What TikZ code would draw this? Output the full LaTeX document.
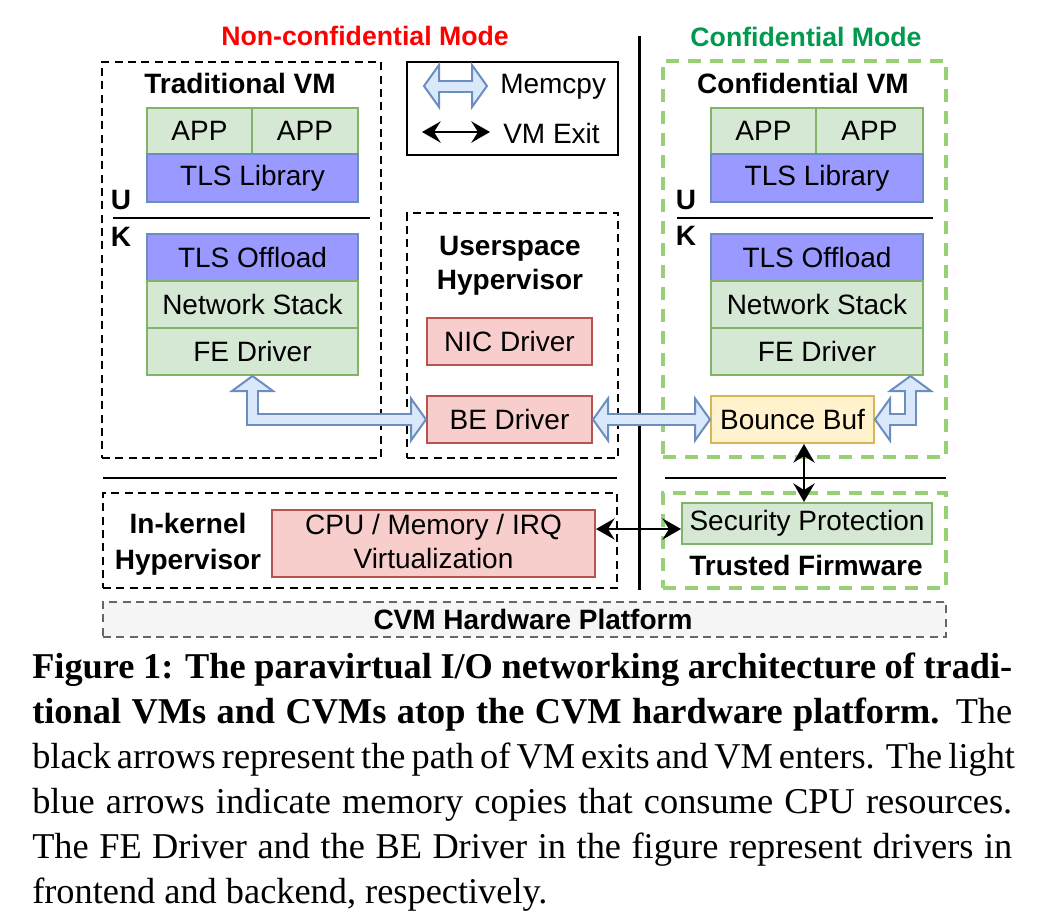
\documentclass[tikz,border=0pt]{standalone}
\usepackage{fontspec}
\setmainfont{Liberation Serif}
\setsansfont{Liberation Sans}
\usetikzlibrary{arrows.meta,calc}
\definecolor{bF}{HTML}{DAE8FC}
\definecolor{bD}{HTML}{6C8EBF}
\definecolor{gF}{HTML}{D5E8D4}
\definecolor{gD}{HTML}{82B366}
\definecolor{rF}{HTML}{F8CECC}
\definecolor{rD}{HTML}{B85450}
\definecolor{pF}{HTML}{9999FF}
\definecolor{yF}{HTML}{FFF2CC}
\definecolor{yD}{HTML}{D6B656}
\definecolor{dG}{HTML}{97D077}
\definecolor{grF}{HTML}{F5F5F5}
\definecolor{grD}{HTML}{666666}
\definecolor{modeR}{HTML}{FF0000}
\definecolor{modeG}{HTML}{00994D}
\newcommand{\pu}{*0.75pt}
\tikzset{
  lbl/.style={font=\sffamily\fontsize{21}{25.5}\selectfont, inner sep=0pt},
  blbl/.style={font=\sffamily\bfseries\fontsize{21}{25.5}\selectfont, inner sep=0pt},
  mode/.style={font=\sffamily\bfseries\fontsize{20}{24}\selectfont, inner sep=0pt},
  cell/.style={draw, line width=1.5pt, inner sep=0pt, font=\sffamily\fontsize{21}{25.5}\selectfont},
  gcell/.style={cell, fill=gF, draw=gD},
  pcell/.style={cell, fill=pF, draw=bD},
  rcell/.style={cell, fill=rF, draw=rD},
  ycell/.style={cell, fill=yF, draw=yD},
  kdash/.style={draw=black, line width=1.5pt, dash pattern=on 6pt off 4pt, inner sep=0pt},
  gdash/.style={draw=dG, line width=2.6pt, dash pattern=on 9.5pt off 7pt, inner sep=0pt},
  fout/.style={draw=bD, line width=9.75pt, line join=miter, line cap=butt},
  fin/.style={draw=bF, line width=6.75pt, line join=miter, line cap=butt, shorten <=-1.6pt, shorten >=-1.6pt},
  fhead/.style={fill=bF, draw=bD, line width=1.5pt, line join=miter},
  fhL/.pic={\path[fhead] (0,0) -- (15,-21) -- (15,21) -- cycle;},
  fhR/.pic={\path[fhead] (0,0) -- (-15,-21) -- (-15,21) -- cycle;},
  fhU/.pic={\path[fhead] (0,0) -- (-20.5,15) -- (20.5,15) -- cycle;},
  ktip/.tip={Stealth[length=14pt,width=16pt,inset=5pt]},
  karrow/.style={line width=1.5pt, ktip-ktip},
  captxt/.style={font=\rmfamily\fontsize{27.25}{33}\selectfont, inner sep=0pt, anchor=base west}
}
\begin{document}
\begin{tikzpicture}[x={(0.75pt,0)}, y={(0,-0.75pt)}]
\useasboundingbox (0,0) rectangle (1043,922);

% mode titles
\node[mode, text=modeR] (mNC) at (365,36) {Non-confidential Mode};
\node[mode, text=modeG] (mC) at (806,37) {Confidential Mode};

% container boxes
\node[kdash, minimum width=279\pu, minimum height=396\pu] (tvm) at (241.5,260) {};
\node[draw, line width=1.5pt, inner sep=0pt, minimum width=211\pu, minimum height=93\pu] (legend) at (512.5,108.5) {};
\node[kdash, minimum width=211\pu, minimum height=245\pu] (ush) at (512.5,335.5) {};
\node[gdash, minimum width=283\pu, minimum height=396\pu] (cvm) at (804.5,259) {};
\node[kdash, minimum width=514\pu, minimum height=95\pu] (ikh) at (360,540.5) {};
\node[gdash, minimum width=283\pu, minimum height=95\pu] (tfw) at (804.5,540.5) {};
\node[kdash, draw=grD, fill=grF, minimum width=843\pu, minimum height=35\pu, font=\sffamily\bfseries\fontsize{21}{25.5}\selectfont] (plat) at (524.5,619.5) {\hspace*{12.75pt}CVM Hardware Platform};

% separators
\draw[line width=2.5pt] (639.5,36) -- (639.5,590);
\draw[line width=1.5pt] (113,218) -- (370,218);
\draw[line width=1.5pt] (677,218) -- (933,218);
\draw[line width=1.5pt] (103,478) -- (617,478);
\draw[line width=1.5pt] (665,478) -- (946,478);

% traditional VM
\node[blbl] (tvmT) at (240,83) {Traditional VM};
\node[blbl] (uL) at (121,200) {U};
\node[blbl] (kL) at (121,237) {K};
\node[gcell, minimum width=105\pu, minimum height=46\pu] (appL1) at (199.5,131) {APP};
\node[gcell, minimum width=106\pu, minimum height=46\pu] (appL2) at (305,131) {APP};
\node[pcell, minimum width=211\pu, minimum height=48\pu] (libL) at (252.5,178) {TLS Library};
\node[pcell, minimum width=211\pu, minimum height=47\pu] (offL) at (252.5,257.5) {TLS Offload};
\node[gcell, minimum width=211\pu, minimum height=47\pu] (netL) at (252.5,304.5) {Network Stack};
\node[gcell, minimum width=211\pu, minimum height=47\pu] (feL) at (252.5,351.5) {FE Driver};

% confidential VM
\node[blbl] (cvmT) at (803,83) {Confidential VM};
\node[blbl] (uR) at (686,200) {U};
\node[blbl] (kR) at (686,236) {K};
\node[gcell, minimum width=105\pu, minimum height=46\pu] (appR1) at (763.5,131) {APP};
\node[gcell, minimum width=107\pu, minimum height=46\pu] (appR2) at (869.5,131) {APP};
\node[pcell, minimum width=212\pu, minimum height=48\pu] (libR) at (817,178) {TLS Library};
\node[pcell, minimum width=212\pu, minimum height=47\pu] (offR) at (817,257.5) {TLS Offload};
\node[gcell, minimum width=212\pu, minimum height=47\pu] (netR) at (817,304.5) {Network Stack};
\node[gcell, minimum width=212\pu, minimum height=47\pu] (feR) at (817,351.5) {FE Driver};
\node[ycell, minimum width=163\pu, minimum height=47\pu] (bb) at (792.5,419.5) {Bounce Buf};

% userspace hypervisor
\node[blbl, align=center] (ushT) at (510,266) {Userspace\\Hypervisor};
\node[rcell, minimum width=165\pu, minimum height=47\pu] (nic) at (509.5,341.5) {NIC Driver};
\node[rcell, minimum width=165\pu, minimum height=47\pu] (beD) at (509.5,419.5) {BE Driver};

% in-kernel hypervisor
\node[blbl, align=center, font=\sffamily\bfseries\fontsize{21}{27}\selectfont] (ikhT) at (188,544) {In-kernel\\Hypervisor};
\node[rcell, minimum width=323\pu, minimum height=67\pu] (cpu) at (433.5,543.5) {};
\node[lbl, align=center] (cpuT) at (433.5,541) {CPU / Memory / IRQ\\Virtualization};

% trusted firmware
\node[gcell, minimum width=250\pu, minimum height=41\pu] (sec) at (807,523.5) {Security Protection};
\node[blbl] (tfwT) at (806,565) {Trusted Firmware};

% legend
\coordinate (m1) at (424,86);
\coordinate (m2) at (487,86);
\coordinate (e1) at (422,132);
\coordinate (e2) at (490,132);
\node[lbl, anchor=west] (memT) at (500,87) {Memcpy};
\node[lbl, anchor=west] (exT) at (503,133) {VM Exit};
\draw[fout] ($(m1)+(15,0)$) -- ($(m2)+(-15,0)$);
\pic at (m1) {fhL};
\pic at (m2) {fhR};
\draw[fin] ($(m1)+(15,0)$) -- ($(m2)+(-15,0)$);
\draw[karrow] (e1) -- (e2);

% memcpy arrows
\coordinate (la1) at ($(feL.south)+(0,15)$);
\coordinate (la2) at (feL.south |- beD.west);
\coordinate (la3) at ($(beD.west)+(-15,0)$);
\draw[fout] (la1) -- (la2) -- (la3);
\pic at (feL.south) {fhU};
\pic at (beD.west) {fhR};
\draw[fin] (la1) -- (la2) -- (la3);

\draw[fout] ($(beD.east)+(15,0)$) -- ($(bb.west)+(-15,0)$);
\pic at (beD.east) {fhL};
\pic at (bb.west) {fhR};
\draw[fin] ($(beD.east)+(15,0)$) -- ($(bb.west)+(-15,0)$);

\coordinate (rx) at (910.5,0);
\coordinate (ra1) at ($(bb.east)+(15,0)$);
\coordinate (ra2) at (rx |- bb.east);
\coordinate (ra3) at ($(rx |- feR.south)+(0,15)$);
\draw[fout] (ra1) -- (ra2) -- (ra3);
\pic at (bb.east) {fhL};
\pic at (rx |- feR.south) {fhU};
\draw[fin] (ra1) -- (ra2) -- (ra3);

% vm exit arrows
\coordinate (vy) at (0,529);
\draw[karrow] (cpu.east |- vy) -- (sec.west |- vy);
\coordinate (vx) at (804,0);
\draw[karrow] (bb.south -| vx) -- (sec.north -| vx);

% caption
\node[captxt] (c1) at (32,678) {\makebox[735pt][s]{\bfseries Figure 1: The paravirtual I/O networking architecture of tradi-}};
\node[captxt] (c2) at (32,723) {\makebox[735pt][s]{\textbf{tional VMs and CVMs atop the CVM hardware platform.} The}};
\node[captxt] (c3) at (32,768) {\makebox[735pt][s]{black arrows represent the path of VM exits and VM enters. The light}};
\node[captxt] (c4) at (32,813) {\makebox[735pt][s]{blue arrows indicate memory copies that consume CPU resources.}};
\node[captxt] (c5) at (32,858) {\makebox[735pt][s]{The FE Driver and the BE Driver in the figure represent drivers in}};
\node[captxt] (c6) at (32,903) {frontend and backend, respectively.};
\end{tikzpicture}
\end{document}
